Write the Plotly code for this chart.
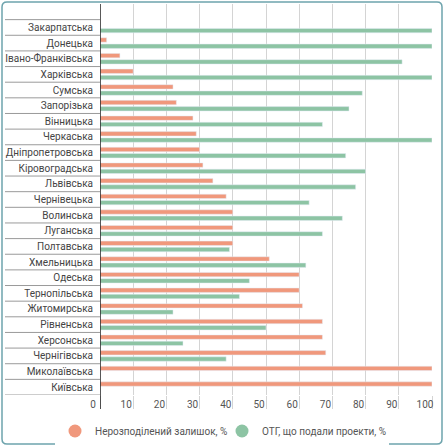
import plotly.graph_objects as go

# regions, top to bottom
regions = ["Закарпатська", "Донецька", "Івано-Франківська", "Харківська", "Сумська",
           "Запорізька", "Вінницька", "Черкаська", "Дніпропетровська", "Кіровоградська",
           "Львівська", "Чернівецька", "Волинська", "Луганська", "Полтавська",
           "Хмельницька", "Одеська", "Тернопільська", "Житомирська", "Рівненська",
           "Херсонська", "Чернігівська", "Миколаївська", "Київська"]

# Нерозподілений залишок, %
balance = [0, 2, 6, 10, 22, 23, 28, 29, 30, 31,
           34, 38, 40, 40, 40, 51, 60, 60, 61, 67,
           67, 68, 100, 100]

# ОТГ, що подали проекти, %
projects = [100, 100, 91, 100, 79, 75, 67, 100, 74, 80,
            77, 63, 73, 67, 39, 62, 45, 42, 22, 50,
            25, 38, 0, 0]

x_ticks = [0, 10, 20, 30, 40, 50, 60, 70, 80, 90, 100]

ORANGE = "#f0987c"
GREEN = "#8dc4a4"
W, H = 444, 446
ML, MR, MT, MB = 100, 12, 4, 51
pw, ph = W - ML - MR, H - MT - MB

fig = go.Figure()
fig.add_trace(go.Bar(y=regions, x=balance, orientation="h", marker_color=ORANGE,
                     name="Нерозподілений залишок, %", showlegend=False))
fig.add_trace(go.Bar(y=regions, x=projects, orientation="h", marker_color=GREEN,
                     name="ОТГ, що подали проекти, %", showlegend=False))

# legend with round markers
for name, col in [("Нерозподілений залишок, %", ORANGE), ("ОТГ, що подали проекти, %", GREEN)]:
    fig.add_trace(go.Scatter(x=[None], y=[None], mode="markers", name=name,
                             marker=dict(symbol="circle", size=13, color=col)))

def px_x(p):
    return (p - ML) / pw

def px_y(p):
    return (H - MB - p) / ph

shapes = []
# row separators in the label area
for k in range(len(regions) + 1):
    shapes.append(dict(type="line", xref="paper", yref="y", x0=px_x(5), x1=0,
                       y0=k - 0.5, y1=k - 0.5, line=dict(color="#9a9a9a", width=1)))
# black axis line running down into the tick area
shapes.append(dict(type="line", xref="x", yref="paper", x0=0, x1=0,
                   y0=px_y(409), y1=1, line=dict(color="#222", width=1.5)))

# rounded outer frame
x0, x1, y0, y1 = px_x(2), px_x(442), px_y(444), px_y(2)
rx, ry = 5 / pw, 5 / ph
path = (f"M {x0+rx},{y0} L {x1-rx},{y0} Q {x1},{y0} {x1},{y0+ry} "
        f"L {x1},{y1-ry} Q {x1},{y1} {x1-rx},{y1} L {x0+rx},{y1} "
        f"Q {x0},{y1} {x0},{y1-ry} L {x0},{y0+ry} Q {x0},{y0} {x0+rx},{y0} Z")
shapes.append(dict(type="path", xref="paper", yref="paper", path=path,
                   line=dict(color="#6ea4ad", width=1.5)))

fig.update_layout(
    width=W, height=H,
    margin=dict(l=ML, r=MR, t=MT, b=MB, autoexpand=False),
    paper_bgcolor="white", plot_bgcolor="white",
    barmode="group", bargap=0.2, bargroupgap=0.3,
    font=dict(family="Roboto", size=10, color="#444"),
    shapes=shapes,
    legend=dict(orientation="h", x=px_x(55), xanchor="left", y=px_y(431),
                yanchor="middle", font=dict(size=10, color="#555"),
                itemwidth=30, tracegroupgap=0, entrywidth=122),
    xaxis=dict(range=[0, 100], tickvals=x_ticks, showgrid=True, gridcolor="#d4d4d4",
               gridwidth=1, zeroline=False, ticks="outside", ticklen=13,
               tickcolor="#d4d4d4", ticklabelshift=-7,
               ticklabelstandoff=-13, tickfont=dict(size=10, color="#555"),
               automargin=False, fixedrange=True),
    yaxis=dict(categoryorder="array", categoryarray=regions, range=[23.5, -1.5],
               showgrid=False, zeroline=False, showline=False, ticks="",
               ticklabelstandoff=6, tickfont=dict(size=10, color="#444"),
               automargin=False, fixedrange=True),
)

# page body margin off so the figure sits at the window corner
fig.write_html("out.html", config={"displayModeBar": False},
               post_script="document.body.style.margin='0';")
